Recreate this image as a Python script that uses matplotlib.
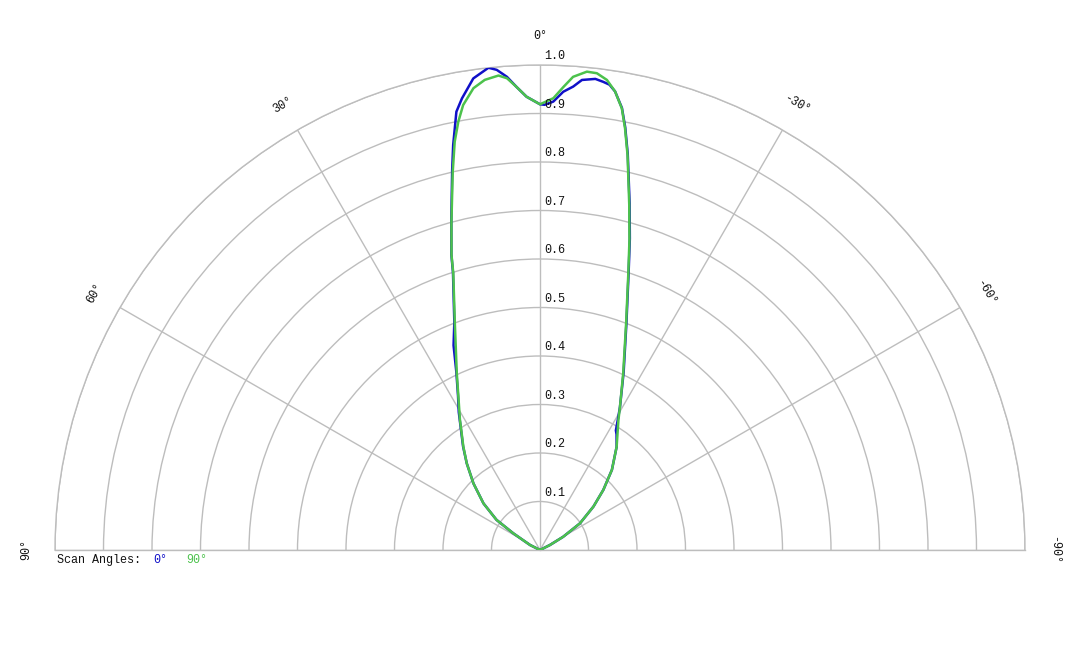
import numpy as np
import matplotlib
matplotlib.use('Agg')
import matplotlib.pyplot as plt

plt.rcParams['font.family'] = ['Liberation Mono', 'DejaVu Sans Mono']

# scan 90 deg (green), angle in degrees, positive to the left
ang_90 = [-66, -63.4, -60.3, -56.3, -50.9, -46.5, -41.9, -36.6, -31.1, -29.2, -25.2, -20.8,
          -17.7, -16.1, -14.5, -12.5, -11.4, -10.5, -9.3, -8.1, -6.8, -5.6, -4.0, -2.9, -1.7,
          0, 1.7, 2.9, 4.0, 5.0, 6.7, 8.2, 9.8, 10.8, 11.8, 13.0, 15.1, 16.7, 17.4, 20.6,
          25.2, 31.6, 36.6, 40.2, 45.0, 50.5, 55.3, 58.0, 63.4, 66]
r_90 = [0, 0.023, 0.055, 0.099, 0.142, 0.180, 0.222, 0.265, 0.313, 0.338, 0.403, 0.500,
        0.599, 0.665, 0.735, 0.834, 0.887, 0.926, 0.958, 0.979, 0.990, 0.991, 0.978, 0.956, 0.932,
        0.919, 0.935, 0.956, 0.975, 0.982, 0.976, 0.962, 0.931, 0.899, 0.860, 0.800, 0.701, 0.635, 0.598, 0.499,
        0.403, 0.315, 0.265, 0.234, 0.194, 0.151, 0.109, 0.065, 0.023, 0]

# scan 0 deg (blue)
ang_0 = [-66, -63.4, -60.3, -56.3, -50.9, -46.5, -41.9, -36.6, -33.5, -32.4, -30.5, -29.2, -25.2, -20.8,
         -17.7, -16.1, -14.5, -12.5, -11.4, -10.5, -9.3, -8.5, -7.7, -6.7, -5.1, -4.1, -2.9, -1.7, -0.6,
         0, 1.7, 2.9, 4.0, 5.15, 6.1, 8.05, 9.8, 10.8, 12.1, 13.0, 15.1, 16.7, 17.4, 20.6, 22.9,
         25.2, 28.0, 30.5, 31.6, 36.6, 40.2, 45.0, 50.5, 55.3, 58.0, 63.4, 66]
r_0 = [0, 0.023, 0.055, 0.099, 0.142, 0.180, 0.222, 0.265, 0.286, 0.292, 0.318, 0.338, 0.405, 0.502,
       0.601, 0.668, 0.738, 0.836, 0.889, 0.927, 0.958, 0.970, 0.974, 0.978, 0.973, 0.958, 0.946, 0.925, 0.918,
       0.919, 0.935, 0.956, 0.978, 0.994, 1.000, 0.982, 0.945, 0.920, 0.854, 0.805, 0.702, 0.636, 0.600, 0.502, 0.458,
       0.405, 0.360, 0.330, 0.316, 0.266, 0.234, 0.194, 0.151, 0.109, 0.065, 0.023, 0]

rings = [0.1, 0.2, 0.3, 0.4, 0.5, 0.6, 0.7, 0.8, 0.9, 1.0]
spokes = [-90, -60, -30, 0, 30, 60, 90]

grid_c = '#bdbdbd'
txt_c = '#111111'
blue = '#1010c8'
green = '#4cc24c'

fig = plt.figure(figsize=(10.8, 6.48), dpi=100)
# square box; the half wedge is centred in it vertically
ax = fig.add_axes([55/1080, (648 - 792.5)/648, 970/1080, 970/648], projection='polar')
ax.set_theta_zero_location('N')
ax.set_theta_direction(1)
ax.set_thetamin(-90)
ax.set_thetamax(90)
ax.set_ylim(0, 1.0)

ax.set_xticks(np.radians(spokes))
ax.set_yticks(rings)
ax.set_xticklabels([])
ax.set_yticklabels([])
ax.grid(True, color=grid_c, linewidth=1.0)
for s in ax.spines.values():
    s.set_color(grid_c)
    s.set_linewidth(1.0)

ax.plot(np.radians(ang_0), r_0, color=blue, linewidth=1.8, zorder=3,
        solid_joinstyle='round', solid_capstyle='round')
ax.plot(np.radians(ang_90), r_90, color=green, linewidth=1.8, zorder=4,
        solid_joinstyle='round', solid_capstyle='round')

# radial labels
for r in rings:
    ax.annotate('%.1f' % r, xy=(0, r), xytext=(3, 2), textcoords='offset points',
                ha='left', va='bottom', fontsize=8.5, color=txt_c, zorder=5)

# angle labels
for a in spokes:
    lab = '%d\u00b0' % a
    ax.text(np.radians(a), 1.06, lab, rotation=a, rotation_mode='anchor',
            ha='center', va='center', fontsize=8.5, color=txt_c)

fig.text(57/1080, 1 - 560/648, 'Scan Angles:', fontsize=8.5, color=txt_c, va='center', ha='left')
fig.text(153/1080, 1 - 560/648, '0\u00b0', fontsize=8.5, color=blue, va='center', ha='left')
fig.text(186/1080, 1 - 560/648, '90\u00b0', fontsize=8.5, color=green, va='center', ha='left')

fig.savefig('out.png', dpi=100)
